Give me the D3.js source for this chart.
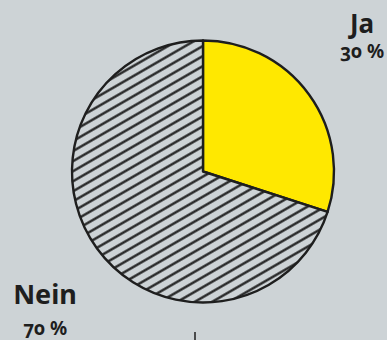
<!DOCTYPE html>
<html>
<head>
<meta charset="utf-8">
<script src="https://cdn.jsdelivr.net/npm/d3@7"></script>
<style>
  html, body { margin: 0; padding: 0; background: #cdd3d6; }
  svg { display: block; }
  text { font-family: "Noto Sans", "Open Sans", sans-serif; font-weight: 700; fill: #1e1e1e; font-feature-settings: "onum" 1; }
</style>
</head>
<body>
<script>
// Survey answers
const categories = ["Ja", "Nein"];
const values = [30, 70];
const valueLabels = ["30 %", "70 %"];

const width = 387, height = 340;
const cx = 203, cy = 171.5, radius = 131;

const svg = d3.select("body").append("svg")
  .attr("width", width).attr("height", height);

svg.append("rect").attr("width", width).attr("height", height).attr("fill", "#cdd3d6");

// diagonal hatching for the "Nein" slice
const defs = svg.append("defs");
const pat = defs.append("pattern")
  .attr("id", "hatch")
  .attr("patternUnits", "userSpaceOnUse")
  .attr("width", 20).attr("height", 8.7)
  .attr("patternTransform", "rotate(-30)");
pat.append("rect").attr("width", 20).attr("height", 8.7).attr("fill", "#cdd3d6");
pat.append("line")
  .attr("x1", 0).attr("x2", 20).attr("y1", 4.35).attr("y2", 4.35)
  .attr("stroke", "#1e1e1e").attr("stroke-width", 2.3);

const data = categories.map((c, i) => ({ category: c, value: values[i], label: valueLabels[i] }));
const fills = d3.scaleOrdinal().domain(categories).range(["#ffe800", "url(#hatch)"]);

const pie = d3.pie().value(d => d.value).sort(null);
const arc = d3.arc().innerRadius(0).outerRadius(radius);

const g = svg.append("g").attr("transform", `translate(${cx},${cy})`);
g.selectAll("path").data(pie(data)).join("path")
  .attr("d", arc)
  .attr("fill", d => fills(d.data.category))
  .attr("stroke", "#1e1e1e")
  .attr("stroke-width", 2.4)
  .attr("stroke-linejoin", "round");

// labels: [x, name baseline, value baseline, name size]
const labelPos = { "Ja": [362, 33, 58, 26], "Nein": [45, 304, 335, 27] };
data.forEach(d => {
  const [x, y1, y2, fs] = labelPos[d.category];
  svg.append("text").attr("x", x).attr("y", y1).attr("text-anchor", "middle")
    .style("font-size", fs + "px").text(d.category);
  svg.append("text").attr("x", x).attr("y", y2).attr("text-anchor", "middle")
    .style("font-size", "19px").text(d.label);
});

// small tick below the chart
svg.append("line")
  .attr("x1", 195).attr("x2", 195).attr("y1", 332).attr("y2", 340)
  .attr("stroke", "#1e1e1e").attr("stroke-width", 1.5);
</script>
</body>
</html>
